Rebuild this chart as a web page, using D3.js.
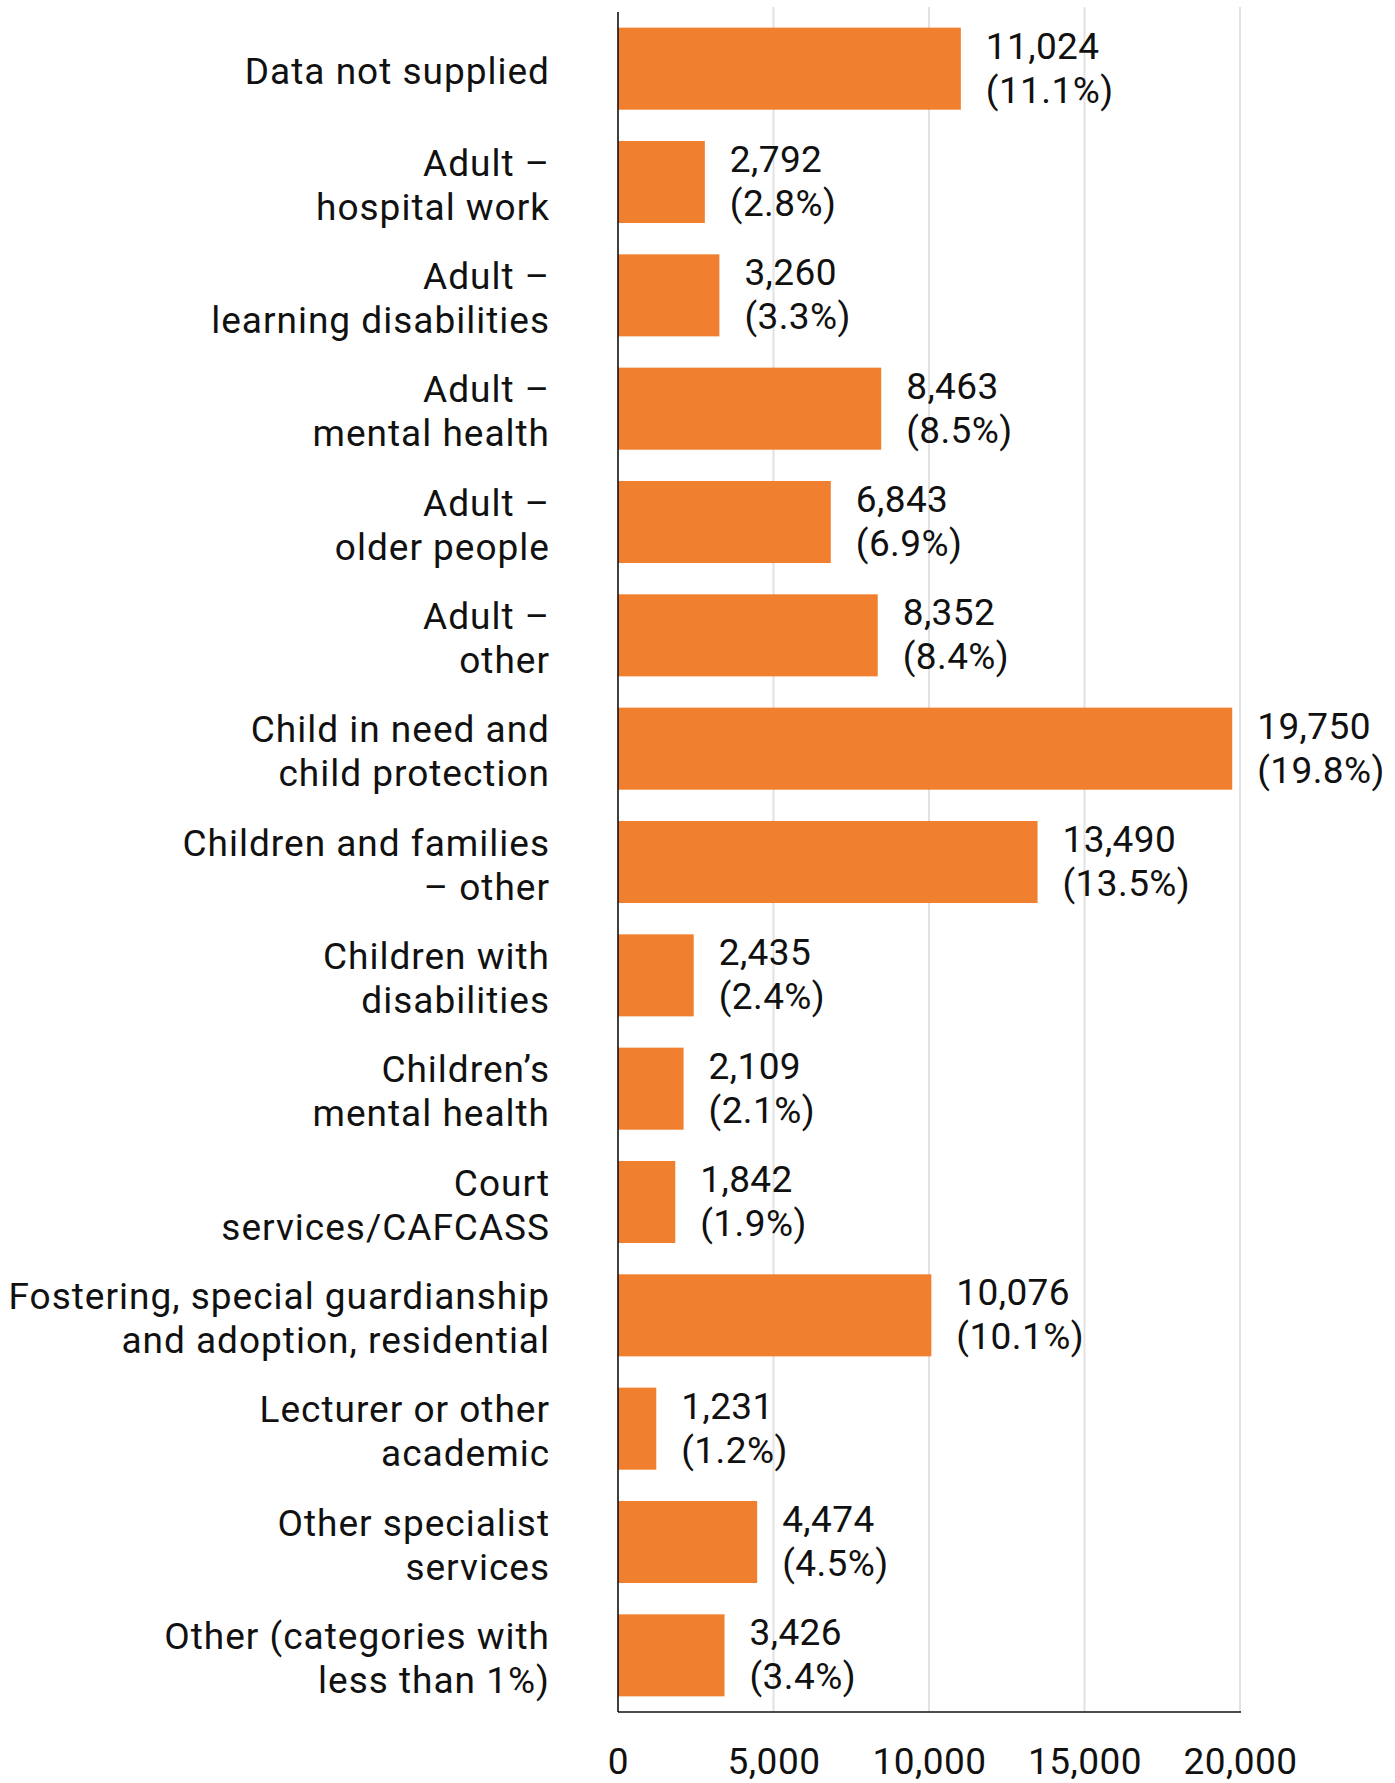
<!DOCTYPE html>
<html>
<head>
<meta charset="utf-8">
<script src="https://cdn.jsdelivr.net/npm/d3@7"></script>
<style>
  html, body { margin: 0; padding: 0; background: #fff; }
  svg { display: block; }
  text { font-family: Roboto, "Liberation Sans", sans-serif; fill: #111; }
</style>
</head>
<body>
<svg id="chart" width="1395" height="1783"></svg>
<script>
// ---- data ----
const categories = [
  ["Data not supplied"],
  ["Adult \u2013", "hospital work"],
  ["Adult \u2013", "learning disabilities"],
  ["Adult \u2013", "mental health"],
  ["Adult \u2013", "older people"],
  ["Adult \u2013", "other"],
  ["Child in need and", "child protection"],
  ["Children and families", "\u2013 other"],
  ["Children with", "disabilities"],
  ["Children\u2019s", "mental health"],
  ["Court", "services/CAFCASS"],
  ["Fostering, special guardianship", "and adoption, residential"],
  ["Lecturer or other", "academic"],
  ["Other specialist", "services"],
  ["Other (categories with", "less than 1%)"]
];
const counts = [11024, 2792, 3260, 8463, 6843, 8352, 19750, 13490, 2435, 2109, 1842, 10076, 1231, 4474, 3426];
const percents = ["11.1%", "2.8%", "3.3%", "8.5%", "6.9%", "8.4%", "19.8%", "13.5%", "2.4%", "2.1%", "1.9%", "10.1%", "1.2%", "4.5%", "3.4%"];
const tickValues = [0, 5000, 10000, 15000, 20000];

// ---- layout ----
const x0 = 618, x1 = 1240, yTop = 12, yBottom = 1712;
const svg = d3.select("#chart");
const FS = 37, LS = 1;

const x = d3.scaleLinear().domain([0, 20000]).range([x0, x1]);
const idx = d3.range(categories.length);
const y = d3.scaleBand().domain(idx).range([yTop, yBottom]).paddingInner(0.276).paddingOuter(0.138);

// gridlines
svg.append("g").selectAll("line").data(tickValues.filter(v => v > 0)).join("line")
  .attr("x1", d => x(d)).attr("x2", d => x(d))
  .attr("y1", 7).attr("y2", yBottom)
  .attr("stroke", "#e2e2e2").attr("stroke-width", 2);

// bars
svg.append("g").selectAll("rect").data(idx).join("rect")
  .attr("x", x(0))
  .attr("y", i => y(i))
  .attr("width", i => x(counts[i]) - x(0))
  .attr("height", y.bandwidth())
  .attr("fill", "#f0802f");

// axes lines
svg.append("line").attr("x1", x0).attr("x2", x0).attr("y1", yTop).attr("y2", yBottom)
  .attr("stroke", "#111").attr("stroke-width", 1.6);
svg.append("line").attr("x1", x0).attr("x2", x1 + 1).attr("y1", yBottom).attr("y2", yBottom)
  .attr("stroke", "#111").attr("stroke-width", 1.6);

// x tick labels via axis
const xAxis = d3.axisBottom(x).tickValues(tickValues).tickSize(0).tickPadding(0)
  .tickFormat(d3.format(","));
const gx = svg.append("g").attr("transform", `translate(0,${yBottom})`).call(xAxis);
gx.select(".domain").remove();
gx.selectAll("text")
  .attr("font-family", "Roboto, sans-serif")
  .attr("font-size", FS)
  .attr("letter-spacing", 0.5)
  .attr("fill", "#111")
  .attr("dy", null)
  .attr("y", 62);

// category labels
const cat = svg.append("g").selectAll("text").data(idx).join("text")
  .attr("text-anchor", "end")
  .attr("font-size", FS)
  .attr("letter-spacing", LS)
  .attr("x", x0 - 68)
  .attr("y", i => y(i) + y.bandwidth() / 2 + 15.5);
cat.each(function(i) {
  const lines = categories[i];
  const t = d3.select(this);
  const n = lines.length;
  lines.forEach((ln, k) => {
    t.append("tspan")
      .attr("x", x0 - 68)
      .attr("dy", k === 0 ? (-(n - 1) * 22) : 44)
      .text(ln);
  });
});

// value labels
const val = svg.append("g").selectAll("text").data(idx).join("text")
  .attr("font-size", FS)
  .attr("letter-spacing", 0.4)
  .attr("x", i => x(counts[i]) + 25)
  .attr("y", i => y(i) + y.bandwidth() / 2 + 12 - 22);
val.append("tspan").attr("x", i => x(counts[i]) + 25).text(i => d3.format(",")(counts[i]));
val.append("tspan").attr("x", i => x(counts[i]) + 25).attr("dy", 44).text(i => "(" + percents[i] + ")");
</script>
</body>
</html>
